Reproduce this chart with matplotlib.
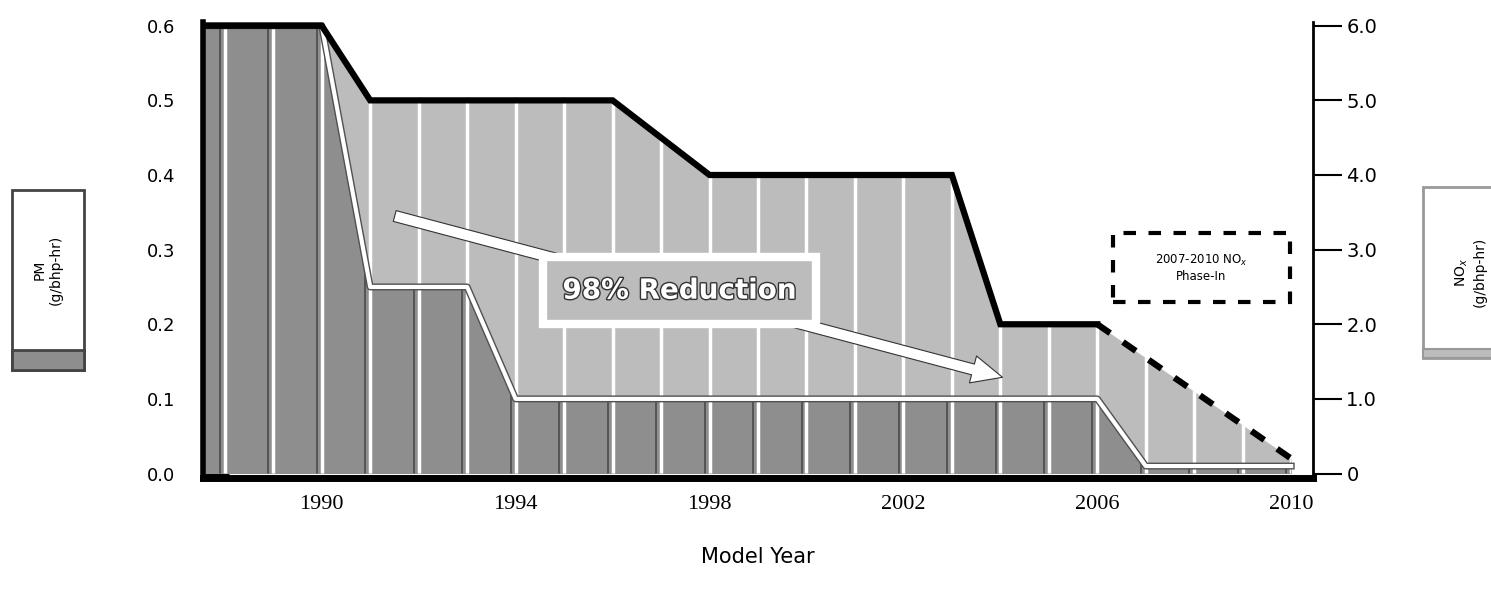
import numpy as np
import matplotlib.pyplot as plt
import matplotlib.patheffects as pe
from matplotlib.patches import Rectangle, FancyArrowPatch

# emission standards, heavy-duty diesel
pm_years = [1987, 1990, 1991, 1993, 1994, 2006, 2007, 2010]
pm_vals = [0.6, 0.6, 0.25, 0.25, 0.1, 0.1, 0.01, 0.01]          # g/bhp-hr
nox_years = [1987, 1990, 1991, 1996, 1998, 2003, 2004, 2006, 2010]
nox_vals = [6.0, 6.0, 5.0, 5.0, 4.0, 4.0, 2.0, 2.0, 0.2]         # g/bhp-hr
grid_years = list(range(1988, 2011))
year_ticks = [1990, 1994, 1998, 2002, 2006, 2010]
pm_ticks = [0.0, 0.1, 0.2, 0.3, 0.4, 0.5, 0.6]
nox_ticks = [0, 1, 2, 3, 4, 5, 6]
nox_ticklabels = ['0', '1.0', '2.0', '3.0', '4.0', '5.0', '6.0']

dark = '#8e8e8e'
light = '#bcbcbc'

fig = plt.figure(figsize=(14.91, 5.94), dpi=100)
ax = fig.add_axes([203/1491, 116/594, 1110/1491, 456/594])
ax_r = ax.twinx()

ax.set_xlim(1987.55, 2010.45)
ax.set_ylim(-0.006, 0.605)
ax_r.set_ylim(-0.06, 6.05)

# NOx area (light) drawn with right-axis scale
nox_fill = ax.fill_between(nox_years, 0, nox_vals, color=light, lw=0,
                           transform=ax_r.transData, zorder=1)
pm_fill = ax.fill_between(pm_years, 0, pm_vals, color=dark, lw=0, zorder=2)

# year dividers: dark shadow in PM area, white line over everything
shadow = ax.vlines(np.array(grid_years) - 0.1, 0, 0.6, color='#4a4a4a', lw=1.2, zorder=3)
shadow.set_clip_path(pm_fill.get_paths()[0], pm_fill.get_transform())
grid = ax.vlines(grid_years, -0.01, 0.61, color='white', lw=2.5, zorder=4)
grid.set_clip_path(nox_fill.get_paths()[0], nox_fill.get_transform())

# PM boundary in white
ax.plot(pm_years, pm_vals, color='white', lw=3, zorder=5,
        path_effects=[pe.Stroke(linewidth=5, foreground='#505050'), pe.Normal()])

# NOx boundary: solid up to 2006, dashed phase-in after
i06 = nox_years.index(2006)
ax.plot(nox_years[:i06 + 1], nox_vals[:i06 + 1], color='black', lw=4.5,
        transform=ax_r.transData, zorder=6, solid_joinstyle='miter')
ax.plot(nox_years[i06:], nox_vals[i06:], color='black', lw=4.5, ls=(0, (2.5, 2.5)),
        transform=ax_r.transData, zorder=6)

# arrow + label
arr = FancyArrowPatch((1991.45, 0.346), (2004.1, 0.128),
                      arrowstyle='simple,head_width=1.0,head_length=1.1,tail_width=0.4',
                      mutation_scale=20, fc='white', ec='#333333', lw=0.8, zorder=7)
ax.add_patch(arr)
ax.text(1997.38, 0.245, '98% Reduction', color='white', fontsize=20, fontweight='bold',
        ha='center', va='center', zorder=8,
        path_effects=[pe.Stroke(linewidth=2, foreground='#333333'), pe.Normal()],
        bbox=dict(boxstyle='square,pad=0.7', fc=light, ec='white', lw=6))

# phase-in box
ax.add_patch(Rectangle((0.82, 0.386), 0.159, 0.151, transform=ax.transAxes, fill=False,
                       ec='black', lw=3, ls=(0, (3, 3)), zorder=8, clip_on=False))
ax.text(0.8995, 0.4615, '2007-2010 NO$_x$\nPhase-In', transform=ax.transAxes,
        ha='center', va='center', fontsize=8.5, zorder=8)

# axes styling
for s in ['top', 'right']:
    ax.spines[s].set_visible(False)
for s in ['top', 'left', 'bottom']:
    ax_r.spines[s].set_visible(False)
ax.spines['left'].set_linewidth(4)
ax.spines['bottom'].set_linewidth(5)
ax_r.spines['right'].set_linewidth(2)
ax.spines['left'].set_zorder(9)

ax.set_yticks(pm_ticks)
ax.set_yticklabels(['%.1f' % v for v in pm_ticks])
ax.tick_params(axis='y', direction='in', length=19, width=2.5, pad=20, labelsize=13)
ax.set_xticks(year_ticks)
ax.set_xticklabels([str(y) for y in year_ticks], fontfamily='Liberation Serif')
ax.tick_params(axis='x', length=0, pad=12, labelsize=16)
ax_r.set_yticks(nox_ticks)
ax_r.set_yticklabels(nox_ticklabels)
ax_r.tick_params(axis='y', direction='out', length=21, width=1.5, pad=3, labelsize=14)
ax.set_xlabel('Model Year', fontsize=15, labelpad=24)

# side label boxes
fig.patches.append(Rectangle((12/1491, 224/594), 72/1491, 180/594, transform=fig.transFigure,
                             fc='white', ec='#444444', lw=2))
fig.patches.append(Rectangle((12/1491, 224/594), 72/1491, 20/594, transform=fig.transFigure,
                             fc=dark, ec='#444444', lw=2))
fig.text(48/1491, 324/594, 'PM\n(g/bhp-hr)', rotation=90, ha='center', va='center',
         fontsize=10, multialignment='center')
fig.patches.append(Rectangle((1423/1491, 236/594), 80/1491, 171/594, transform=fig.transFigure,
                             fc='white', ec='#999999', lw=2))
fig.patches.append(Rectangle((1423/1491, 236/594), 80/1491, 9/594, transform=fig.transFigure,
                             fc=light, ec='#999999', lw=1.5))
fig.text(1470/1491, 322/594, 'NO$_x$\n(g/bhp-hr)', rotation=90, ha='center', va='center',
         fontsize=10, multialignment='center')

fig.savefig('out.png', dpi=100)
